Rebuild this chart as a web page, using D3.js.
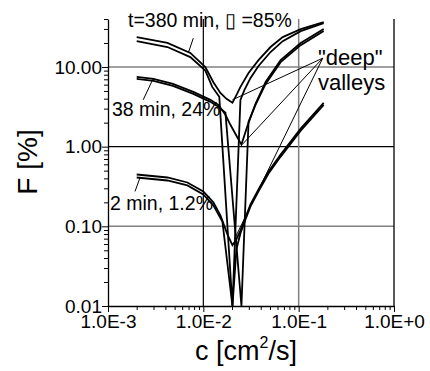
<!DOCTYPE html>
<html>
<head>
<meta charset="utf-8">
<script src="https://cdn.jsdelivr.net/npm/d3@7"></script>
<style>
  body { margin: 0; background: #fff; }
  svg text { font-family: "Liberation Sans", Arial, sans-serif; fill: #000; }
</style>
</head>
<body>
<div id="chart"></div>
<script>
// axis ticks
const cTicks = [1e-3, 1e-2, 1e-1, 1];
const cTickLabels = ["1.0E-3", "1.0E-2", "1.0E-1", "1.0E+0"];
const fTicks = [0.01, 0.1, 1, 10];
const fTickLabels = ["0.01", "0.10", "1.00", "10.00"];

// t = 380 min, 85%
const c380a = [0.002, 0.0042, 0.0073, 0.0105, 0.0127, 0.0151, 0.0175, 0.0202, 0.0223, 0.0245, 0.0298, 0.0379, 0.0507, 0.068, 0.105, 0.183];
const f380a = [23.7, 20.0, 15.0, 10.0, 6.49, 4.73, 3.98, 3.55, 4.47, 5.62, 8.41, 12.2, 17.8, 23.7, 29.9, 36.5];
const c380b = [0.002, 0.0042, 0.0073, 0.0105, 0.0124, 0.0147, 0.0202, 0.0245, 0.027, 0.0313, 0.0379, 0.0507, 0.068, 0.105, 0.183];
const f380b = [21.1, 17.8, 13.3, 9.0, 5.62, 4.22, 0.01, 3.87, 5.16, 7.29, 10.3, 15.4, 21.1, 28.2, 35.5];

// 38 min, 24%
const c38a = [0.002, 0.003, 0.0048, 0.00785, 0.01185, 0.01438, 0.01705, 0.01924, 0.02225, 0.0251, 0.02905, 0.03526, 0.045, 0.0647, 0.105, 0.183];
const f38a = [7.5, 7.08, 6.13, 4.87, 3.87, 3.35, 2.51, 1.88, 1.37, 1.06, 1.83, 3.45, 6.49, 12.2, 20.0, 29.9];
const c38b = [0.002, 0.003, 0.0048, 0.00785, 0.01185, 0.01438, 0.01705, 0.0251, 0.0298, 0.03526, 0.045, 0.0647, 0.105, 0.183];
const f38b = [7.08, 6.68, 5.79, 4.60, 3.65, 3.16, 2.66, 0.01, 2.05, 3.35, 6.13, 11.5, 18.8, 28.2];

// 2 min, 1.2%
const c2a = [0.002, 0.0042, 0.0068, 0.01, 0.01274, 0.0151, 0.01789, 0.0202, 0.02225, 0.02452, 0.02767, 0.03125, 0.0379, 0.0483, 0.0647, 0.105, 0.183];
const f2a = [0.447, 0.41, 0.355, 0.274, 0.2, 0.137, 0.0794, 0.0579, 0.0688, 0.0891, 0.13, 0.188, 0.29, 0.487, 0.794, 1.68, 3.55];
const c2b = [0.002, 0.0042, 0.0068, 0.01, 0.01274, 0.01585, 0.0202, 0.02225, 0.02452, 0.02767, 0.03125, 0.0379, 0.0483, 0.0647, 0.105, 0.183];
const f2b = [0.41, 0.376, 0.326, 0.251, 0.183, 0.115, 0.01, 0.0516, 0.0818, 0.122, 0.178, 0.274, 0.46, 0.75, 1.585, 3.35];

const curveLabels = ["t=380 min, \u25AF =85%", "38 min, 24%", "2 min, 1.2%"];

function renderChart() {
    const width = 430, height = 371;
    const left = 108, right = 394, top = 19, bottom = 306;

    const svg = d3.select("#chart").append("svg")
        .attr("width", width)
        .attr("height", height)
        .style("background", "#fff");

    const x = d3.scaleLog().domain([1e-3, 1]).range([left, right]);
    const y = d3.scaleLog().domain([0.01, 40]).range([bottom, top]);

    // grid lines (alternating black / gray like the original)
    const hGrid = [[10, "#808080"], [1, "#000"], [0.1, "#808080"]];
    hGrid.forEach(([v, col]) => {
        svg.append("line")
            .attr("x1", left).attr("x2", right)
            .attr("y1", y(v)).attr("y2", y(v))
            .attr("stroke", col).attr("stroke-width", col === "#000" ? 1.2 : 1.5);
    });
    const vGrid = [[1e-2, "#000"], [1e-1, "#808080"]];
    vGrid.forEach(([v, col]) => {
        svg.append("line")
            .attr("x1", x(v)).attr("x2", x(v))
            .attr("y1", top).attr("y2", bottom)
            .attr("stroke", col).attr("stroke-width", col === "#000" ? 1.2 : 1.5);
    });

    // right frame
    svg.append("line")
        .attr("x1", right).attr("x2", right)
        .attr("y1", top).attr("y2", bottom)
        .attr("stroke", "#000").attr("stroke-width", 1.3);

    // minor ticks
    const yMinor = y.ticks().filter(v => !fTicks.includes(v));
    const xMinor = x.ticks().filter(v => !cTicks.includes(v));

    svg.append("g")
        .attr("transform", `translate(${left},0)`)
        .call(d3.axisLeft(y).tickValues(yMinor).tickSize(4).tickFormat(""))
        .call(g => g.select(".domain").remove());
    svg.append("g")
        .attr("transform", `translate(0,${bottom})`)
        .call(d3.axisBottom(x).tickValues(xMinor).tickSize(4).tickFormat(""))
        .call(g => g.select(".domain").remove());

    // major axes
    const yAxis = svg.append("g")
        .attr("transform", `translate(${left},0)`)
        .call(d3.axisLeft(y).tickValues(fTicks).tickSize(6).tickSizeOuter(0).tickPadding(0)
            .tickFormat((d, i) => fTickLabels[i]));
    const xAxis = svg.append("g")
        .attr("transform", `translate(0,${bottom})`)
        .call(d3.axisBottom(x).tickValues(cTicks).tickSize(6).tickSizeOuter(0)
            .tickFormat((d, i) => cTickLabels[i]));

    [yAxis, xAxis].forEach(g => {
        g.selectAll(".domain").attr("stroke-width", 1.3);
        g.selectAll(".tick line").attr("stroke-width", 1);
        g.selectAll("text")
            .attr("font-family", "Liberation Sans, Arial, sans-serif")
            .attr("font-size", 19);
    });
    yAxis.selectAll(".tick line").attr("stroke-width", 1);

    // curves
    const line = d3.line()
        .x(d => x(d[0]))
        .y(d => y(d[1]));

    const curves = [
        [c380a, f380a], [c380b, f380b],
        [c38a, f38a], [c38b, f38b],
        [c2a, f2a], [c2b, f2b]
    ];
    curves.forEach(([cs, fs]) => {
        svg.append("path")
            .datum(d3.zip(cs, fs))
            .attr("fill", "none")
            .attr("stroke", "#000")
            .attr("stroke-width", 1.8)
            .attr("d", line);
    });

    // leader lines from the labels to the curves
    const leaders = [
        [[0.00785, 23.0], [0.00695, 15.0]],
        [[0.003, 7.29], [0.00234, 3.87]],
        [[0.00217, 0.41], [0.00192, 0.274]],
        [[0.179, 12.9], [0.0202, 3.87]],
        [[0.179, 12.9], [0.0255, 1.06]],
        [[0.179, 12.9], [0.0212, 0.069]]
    ];
    leaders.forEach(seg => {
        svg.append("path")
            .datum(seg)
            .attr("fill", "none")
            .attr("stroke", "#000")
            .attr("stroke-width", 1)
            .attr("d", line);
    });

    // curve labels
    svg.append("text").attr("x", 128).attr("y", 27)
        .attr("font-size", 19.5).text(curveLabels[0]);
    svg.append("text").attr("x", 112).attr("y", 116)
        .attr("font-size", 19.5).text(curveLabels[1]);
    svg.append("text").attr("x", 110).attr("y", 210)
        .attr("font-size", 19.5).text(curveLabels[2]);

    svg.append("text").attr("x", 318).attr("y", 65)
        .attr("font-size", 22).text("\"deep\"");
    svg.append("text").attr("x", 318).attr("y", 90)
        .attr("font-size", 22).text("valleys");

    // axis titles
    svg.append("text")
        .attr("transform", "translate(37,162) rotate(-90)")
        .attr("text-anchor", "middle")
        .attr("font-size", 28)
        .text("F [%]");

    const xt = svg.append("text")
        .attr("x", 195).attr("y", 360)
        .attr("font-size", 27);
    xt.append("tspan").text("c [cm");
    xt.append("tspan").attr("dy", -12).attr("font-size", 16).text("2");
    xt.append("tspan").attr("dy", 12).text("/s]");
}

document.addEventListener('DOMContentLoaded', function() {
    renderChart();
});
</script>
</body>
</html>
